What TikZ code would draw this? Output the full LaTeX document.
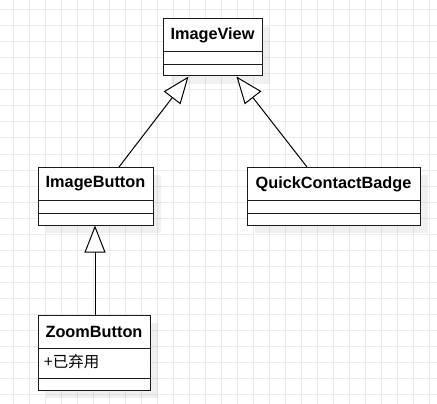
\documentclass[tikz,border=0pt]{standalone}
\usepackage{fontspec}
\setmainfont{Liberation Sans}
\newfontfamily\cjk{Noto Sans CJK SC}
\usetikzlibrary{arrows.meta}
\definecolor{gridc}{HTML}{EBEBEB}
\definecolor{boxline}{HTML}{1A1A1A}
\tikzset{
  classbox/.style={draw=boxline, line width=1pt, fill=white, rectangle, inner sep=0pt,
    preaction={fill=black, fill opacity=0.06, transform canvas={xshift=8pt, yshift=-8pt}}},
  classname/.style={font=\fontsize{16.3}{18}\selectfont\bfseries, inner sep=0pt, text=black},
  member/.style={font=\cjk\fontsize{15.5}{18}\selectfont, inner sep=0pt, anchor=west, text=black},
  sepline/.style={draw=boxline, line width=1pt},
  inh/.style={draw=black, line width=1pt, -{Triangle[length=27pt, width=21pt, fill=white]}},
}
\begin{document}
\begin{tikzpicture}[x=1pt, y=-1pt]
\useasboundingbox (0,0) rectangle (437,404);
\fill[white] (0,0) rectangle (437,404);
% grid
\foreach \i in {0,...,27} { \draw[gridc, line width=1pt] ({13.3+16*\i},0) -- ({13.3+16*\i},404); }
\foreach \j in {0,...,25} { \draw[gridc, line width=1pt] (0,{10+16*\j}) -- (437,{10+16*\j}); }

% ImageView
\node[classbox, minimum width=99pt, minimum height=57pt] (iv) at (212.5,47.5) {};
\node[classname] (ivt) at (212.5,35.5) {ImageView};
\draw[sepline] (iv.west |- 0,52) -- (iv.east |- 0,52);
\draw[sepline] (iv.west |- 0,65) -- (iv.east |- 0,65);

% ImageButton
\node[classbox, minimum width=115pt, minimum height=58pt] (ib) at (95.5,196) {};
\node[classname] (ibt) at (95.5,184) {ImageButton};
\draw[sepline] (ib.west |- 0,200) -- (ib.east |- 0,200);
\draw[sepline] (ib.west |- 0,213) -- (ib.east |- 0,213);

% QuickContactBadge
\node[classbox, minimum width=173pt, minimum height=58pt] (qc) at (333.5,196) {};
\node[classname] (qct) at (333.5,184) {QuickContactBadge};
\draw[sepline] (qc.west |- 0,200) -- (qc.east |- 0,200);
\draw[sepline] (qc.west |- 0,213) -- (qc.east |- 0,213);

% ZoomButton
\node[classbox, minimum width=112pt, minimum height=75pt] (zb) at (94,352.5) {};
\node[classname] (zbt) at (94,332) {ZoomButton};
\draw[sepline] (zb.west |- 0,348) -- (zb.east |- 0,348);
\node[member] (zbm) at (44,362) {+已弃用};
\draw[sepline] (zb.west |- 0,378) -- (zb.east |- 0,378);

% connector endpoints
\coordinate (ibtop) at (119,167);
\coordinate (qctop) at (307,167);
\coordinate (ivb1) at (188.5,76.5);
\coordinate (ivb2) at (236.5,76.5);
\coordinate (zbtop) at (95,315);
\coordinate (ibbot) at (95,225.5);

\draw[inh] (ibtop) -- (ivb1);
\draw[inh] (qctop) -- (ivb2);
\draw[inh] (zbtop) -- (ibbot);
\end{tikzpicture}
\end{document}
